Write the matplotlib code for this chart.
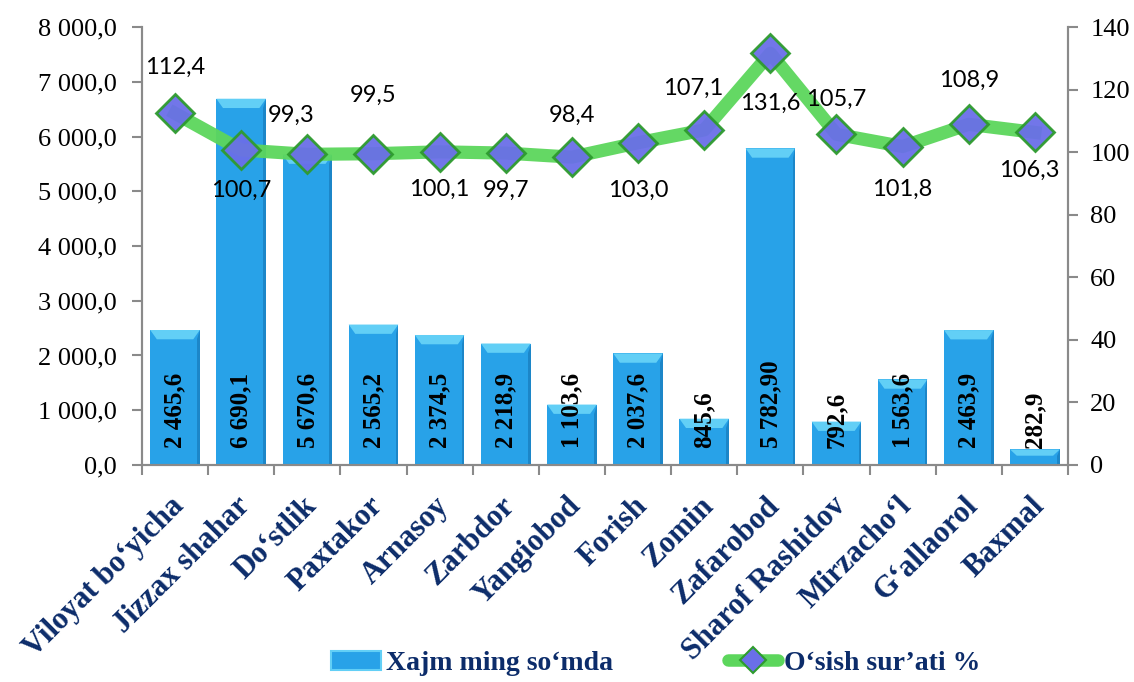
import matplotlib
matplotlib.use("Agg")
import matplotlib.pyplot as plt
from matplotlib.patches import Patch, Polygon
from matplotlib.lines import Line2D

plt.rcParams["font.family"] = ["Liberation Serif", "DejaVu Serif"]

categories = ["Viloyat bo\u2018yicha", "Jizzax shahar", "Do\u2018stlik", "Paxtakor",
              "Arnasoy", "Zarbdor", "Yangiobod", "Forish", "Zomin", "Zafarobod",
              "Sharof Rashidov", "Mirzacho\u2018l", "G\u2018allaorol", "Baxmal"]
volume = [2465.6, 6690.1, 5670.6, 2565.2, 2374.5, 2218.9, 1103.6, 2037.6,
          845.6, 5782.9, 792.6, 1563.6, 2463.9, 282.9]
volume_labels = ["2 465,6", "6 690,1", "5 670,6", "2 565,2", "2 374,5", "2 218,9",
                 "1 103,6", "2 037,6", "845,6", "5 782,90", "792,6", "1 563,6",
                 "2 463,9", "282,9"]
growth = [112.4, 100.7, 99.3, 99.5, 100.1, 99.7, 98.4, 103.0, 107.1, 131.6,
          105.7, 101.8, 108.9, 106.3]
series_names = ["Xajm ming so\u2018mda", "O\u2018sish sur\u2019ati %"]
left_ticks = [0, 1000, 2000, 3000, 4000, 5000, 6000, 7000, 8000]
left_tick_labels = ["0,0", "1 000,0", "2 000,0", "3 000,0", "4 000,0",
                    "5 000,0", "6 000,0", "7 000,0", "8 000,0"]
right_ticks = [0, 20, 40, 60, 80, 100, 120, 140]

# label offsets (points) for the growth labels
lab_off = [(0, 33), (0, -29), (-12, 28), (0, 42), (0, -27), (0, -27), (0, 30),
           (0, -34), (-8, 30), (0, -36), (0, 25), (0, -31), (0, 32), (-4, -27)]

navy = "#0C2C6A"
bar_col = "#28A2E8"
top_col = "#62CFF6"
side_col = "#1C86C8"
line_col = "#5CD65C"
spine_col = "#8A8A8A"
serif = "Liberation Serif"

fig = plt.figure(figsize=(11.34, 6.82), dpi=100)
ax = fig.add_axes([0.1252, 0.3182, 0.8166, 0.6422])
ax2 = ax.twinx()

x = list(range(len(categories)))
w = 0.75
ax.bar(x, volume, width=w, color=bar_col, edgecolor="none", zorder=2)

# bevel effect computed from data
for xi, v in zip(x, volume):
    bh = min(170, v * 0.4)
    inset = 0.1
    top = Polygon([(xi - w / 2, v), (xi + w / 2, v), (xi + w / 2 - inset, v - bh),
                   (xi - w / 2 + inset, v - bh)], closed=True, color=top_col,
                  lw=0, zorder=3)
    ax.add_patch(top)
    right = Polygon([(xi + w / 2, v), (xi + w / 2, 0), (xi + w / 2 - 0.04, 0),
                     (xi + w / 2 - 0.04, max(v - bh, 0))], closed=True,
                    color=side_col, lw=0, zorder=3)
    ax.add_patch(right)

for xi, lab in zip(x, volume_labels):
    ax.annotate(lab, xy=(xi, 0), xytext=(0, 12), textcoords="offset points",
                rotation=90, ha="center", va="bottom", fontsize=18,
                fontweight="bold", family=serif, color="black", zorder=5)

ax.set_xlim(-0.5, len(categories) - 0.5)
ax.set_ylim(0, left_ticks[-1])
ax.set_yticks(left_ticks)
ax.set_yticklabels(left_tick_labels, fontsize=19, family=serif)
ax.set_xticks([xi - 0.08 for xi in x])
ax.set_xticklabels(categories, rotation=45, ha="right", va="top",
                   rotation_mode="anchor", fontsize=22, fontweight="bold",
                   family=serif, color=navy)
ax.set_xticks([i - 0.5 for i in range(len(categories) + 1)], minor=True)
ax.tick_params(axis="x", which="major", length=0, pad=19)
ax.tick_params(axis="x", which="minor", length=7, color=spine_col, width=1.5)
ax.tick_params(axis="y", length=7, color=spine_col, width=1.5, pad=11)

ax2.plot(x, growth, color=line_col, lw=9.5, solid_joinstyle="round",
         marker="D", markersize=19, markerfacecolor="#6A6FE8",
         markeredgecolor="#2E9B2E", markeredgewidth=2, zorder=4, alpha=0.95)
ax2.set_ylim(0, right_ticks[-1])
ax2.set_yticks(right_ticks)
ax2.set_yticklabels([str(t) for t in right_ticks], fontsize=19, family=serif)
ax2.tick_params(axis="y", length=7, color=spine_col, width=1.5, pad=9)
for xi, g, off in zip(x, growth, lab_off):
    ax2.annotate(f"{g:.1f}".replace(".", ","), xy=(xi, g), xytext=off,
                 textcoords="offset points", ha="center", va="center",
                 fontsize=17, family="Lato", color="black", zorder=6)

for a in (ax, ax2):
    a.spines["top"].set_visible(False)
    for s in ("left", "right", "bottom"):
        a.spines[s].set_color(spine_col)
        a.spines[s].set_linewidth(1.5)
ax2.set_zorder(ax.get_zorder() + 1)
ax2.patch.set_visible(False)

handles = [Patch(facecolor=bar_col, edgecolor=top_col, linewidth=1.5),
           Line2D([0], [0], color=line_col, lw=9, marker="D", markersize=13,
                  markerfacecolor="#6A6FE8", markeredgecolor="#2E9B2E",
                  markeredgewidth=1.5, solid_capstyle="round")]
leg = fig.legend(handles, series_names, loc="lower center",
                 bbox_to_anchor=(0.578, -0.028), ncol=2, frameon=False,
                 handlelength=1.8, handletextpad=0.2, columnspacing=4.15,
                 prop={"family": serif, "weight": "bold", "size": 20})
for t in leg.get_texts():
    t.set_color(navy)

fig.savefig("out.png", dpi=100)
